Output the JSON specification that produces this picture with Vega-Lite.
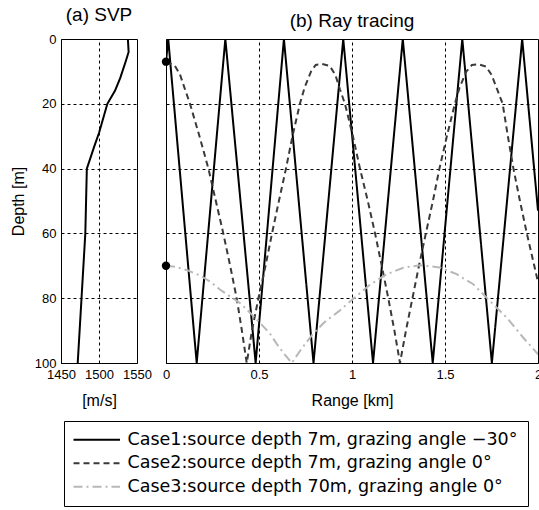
{
  "$schema": "https://vega.github.io/schema/vega-lite/v6.json",
  "background": "white",
  "padding": {"left": 9, "top": 5, "right": 0, "bottom": 0},
  "bounds": "flush",
  "spacing": 29,
  "config": {
    "view": {"stroke": "black", "strokeWidth": 1},
    "font": "Liberation Sans",
    "axis": {
      "grid": true, "gridColor": "black", "gridDash": [3, 3], "gridWidth": 1, "gridOpacity": 1,
      "domain": false, "ticks": false, "labelFlush": false, "labelOverlap": false,
      "labelFont": "Liberation Sans", "labelFontSize": 13, "labelColor": "black", "labelPadding": 5,
      "titleFont": "Liberation Sans", "titleFontSize": 16, "titleFontWeight": "normal", "titleColor": "black", "titlePadding": 11
    },
    "title": {"font": "Liberation Sans", "fontSize": 19, "fontWeight": "normal", "color": "black", "offset": 8}
  },
  "datasets": {
    "svp": [
      {"speed": 1538, "depth": 0}, {"speed": 1539, "depth": 4}, {"speed": 1535, "depth": 7},
      {"speed": 1528, "depth": 12}, {"speed": 1521, "depth": 16}, {"speed": 1511, "depth": 20},
      {"speed": 1500, "depth": 29}, {"speed": 1494, "depth": 33}, {"speed": 1484, "depth": 40},
      {"speed": 1482, "depth": 60}, {"speed": 1477, "depth": 80}, {"speed": 1472, "depth": 100}
    ],
    "rays": [
      {"case": "Case1", "range": 0, "depth": 7}, {"case": "Case1", "range": 0.012, "depth": 0},
      {"case": "Case1", "range": 0.165, "depth": 100}, {"case": "Case1", "range": 0.319, "depth": 0},
      {"case": "Case1", "range": 0.482, "depth": 100}, {"case": "Case1", "range": 0.634, "depth": 0},
      {"case": "Case1", "range": 0.793, "depth": 100}, {"case": "Case1", "range": 0.953, "depth": 0},
      {"case": "Case1", "range": 1.113, "depth": 100}, {"case": "Case1", "range": 1.273, "depth": 0},
      {"case": "Case1", "range": 1.434, "depth": 100}, {"case": "Case1", "range": 1.593, "depth": 0},
      {"case": "Case1", "range": 1.752, "depth": 100}, {"case": "Case1", "range": 1.915, "depth": 0},
      {"case": "Case1", "range": 2.0, "depth": 53},

      {"case": "Case2", "range": 0, "depth": 7}, {"case": "Case2", "range": 0.048, "depth": 8.3},
      {"case": "Case2", "range": 0.075, "depth": 10.9}, {"case": "Case2", "range": 0.102, "depth": 15.5},
      {"case": "Case2", "range": 0.129, "depth": 20}, {"case": "Case2", "range": 0.18, "depth": 30},
      {"case": "Case2", "range": 0.228, "depth": 40}, {"case": "Case2", "range": 0.268, "depth": 50},
      {"case": "Case2", "range": 0.308, "depth": 60}, {"case": "Case2", "range": 0.345, "depth": 70},
      {"case": "Case2", "range": 0.38, "depth": 80}, {"case": "Case2", "range": 0.408, "depth": 90},
      {"case": "Case2", "range": 0.434, "depth": 100}, {"case": "Case2", "range": 0.462, "depth": 90},
      {"case": "Case2", "range": 0.497, "depth": 80}, {"case": "Case2", "range": 0.535, "depth": 70},
      {"case": "Case2", "range": 0.57, "depth": 60}, {"case": "Case2", "range": 0.607, "depth": 50},
      {"case": "Case2", "range": 0.645, "depth": 40}, {"case": "Case2", "range": 0.68, "depth": 30},
      {"case": "Case2", "range": 0.72, "depth": 20}, {"case": "Case2", "range": 0.745, "depth": 15},
      {"case": "Case2", "range": 0.78, "depth": 10}, {"case": "Case2", "range": 0.805, "depth": 8},
      {"case": "Case2", "range": 0.839, "depth": 7.7}, {"case": "Case2", "range": 0.88, "depth": 8.3},
      {"case": "Case2", "range": 0.91, "depth": 11}, {"case": "Case2", "range": 0.935, "depth": 15.5},
      {"case": "Case2", "range": 0.962, "depth": 20}, {"case": "Case2", "range": 1.005, "depth": 30},
      {"case": "Case2", "range": 1.043, "depth": 40}, {"case": "Case2", "range": 1.085, "depth": 50},
      {"case": "Case2", "range": 1.124, "depth": 60}, {"case": "Case2", "range": 1.16, "depth": 70},
      {"case": "Case2", "range": 1.195, "depth": 80}, {"case": "Case2", "range": 1.228, "depth": 90},
      {"case": "Case2", "range": 1.258, "depth": 100}, {"case": "Case2", "range": 1.29, "depth": 90},
      {"case": "Case2", "range": 1.325, "depth": 80}, {"case": "Case2", "range": 1.36, "depth": 70},
      {"case": "Case2", "range": 1.397, "depth": 60}, {"case": "Case2", "range": 1.435, "depth": 50},
      {"case": "Case2", "range": 1.47, "depth": 40}, {"case": "Case2", "range": 1.51, "depth": 30},
      {"case": "Case2", "range": 1.553, "depth": 20}, {"case": "Case2", "range": 1.578, "depth": 15},
      {"case": "Case2", "range": 1.615, "depth": 10}, {"case": "Case2", "range": 1.645, "depth": 8},
      {"case": "Case2", "range": 1.679, "depth": 7.8}, {"case": "Case2", "range": 1.72, "depth": 8.5},
      {"case": "Case2", "range": 1.75, "depth": 11}, {"case": "Case2", "range": 1.78, "depth": 15.5},
      {"case": "Case2", "range": 1.81, "depth": 20}, {"case": "Case2", "range": 1.838, "depth": 30},
      {"case": "Case2", "range": 1.868, "depth": 40}, {"case": "Case2", "range": 1.903, "depth": 50},
      {"case": "Case2", "range": 1.94, "depth": 60}, {"case": "Case2", "range": 1.98, "depth": 70},
      {"case": "Case2", "range": 2.0, "depth": 75},

      {"case": "Case3", "range": 0, "depth": 70}, {"case": "Case3", "range": 0.05, "depth": 70.3},
      {"case": "Case3", "range": 0.12, "depth": 71.5}, {"case": "Case3", "range": 0.183, "depth": 73},
      {"case": "Case3", "range": 0.24, "depth": 75}, {"case": "Case3", "range": 0.29, "depth": 77.3},
      {"case": "Case3", "range": 0.345, "depth": 79.5}, {"case": "Case3", "range": 0.398, "depth": 81.5},
      {"case": "Case3", "range": 0.452, "depth": 84.5}, {"case": "Case3", "range": 0.505, "depth": 87.6},
      {"case": "Case3", "range": 0.56, "depth": 91}, {"case": "Case3", "range": 0.6, "depth": 94.5},
      {"case": "Case3", "range": 0.64, "depth": 97.5}, {"case": "Case3", "range": 0.676, "depth": 100},
      {"case": "Case3", "range": 0.73, "depth": 95.5}, {"case": "Case3", "range": 0.79, "depth": 91},
      {"case": "Case3", "range": 0.85, "depth": 87.5}, {"case": "Case3", "range": 0.93, "depth": 84},
      {"case": "Case3", "range": 1.0, "depth": 80.5}, {"case": "Case3", "range": 1.097, "depth": 75.8},
      {"case": "Case3", "range": 1.187, "depth": 72.6}, {"case": "Case3", "range": 1.276, "depth": 70.6},
      {"case": "Case3", "range": 1.366, "depth": 69.8}, {"case": "Case3", "range": 1.47, "depth": 70.5},
      {"case": "Case3", "range": 1.56, "depth": 72.5}, {"case": "Case3", "range": 1.652, "depth": 75.7},
      {"case": "Case3", "range": 1.742, "depth": 80.9}, {"case": "Case3", "range": 1.832, "depth": 86},
      {"case": "Case3", "range": 1.921, "depth": 92.2}, {"case": "Case3", "range": 2.0, "depth": 97.3}
    ],
    "sources": [
      {"range": 0, "depth": 7}, {"range": 0, "depth": 70}
    ]
  },
  "hconcat": [
    {
      "width": 76,
      "height": 324,
      "title": "(a) SVP",
      "data": {"name": "svp"},
      "mark": {"type": "line", "color": "black", "strokeWidth": 2},
      "encoding": {
        "x": {"field": "speed", "type": "quantitative",
              "scale": {"domain": [1450, 1550], "nice": false, "zero": false},
              "axis": {"values": [1450, 1500, 1550], "title": "[m/s]", "format": "d"}},
        "y": {"field": "depth", "type": "quantitative",
              "scale": {"domain": [0, 100], "reverse": true, "nice": false},
              "axis": {"values": [0, 20, 40, 60, 80, 100], "title": "Depth [m]", "titlePadding": 8}},
        "order": {"field": "depth", "type": "quantitative"}
      }
    },
    {
      "width": 372,
      "height": 324,
      "title": "(b) Ray tracing",
      "layer": [
        {
          "data": {"name": "rays"},
          "mark": {"type": "line", "strokeWidth": 2, "clip": true},
          "encoding": {
            "x": {"field": "range", "type": "quantitative",
                  "scale": {"domain": [0, 2], "nice": false},
                  "axis": {"values": [0, 0.5, 1, 1.5, 2], "title": "Range [km]", "format": "~g"}},
            "y": {"field": "depth", "type": "quantitative",
                  "scale": {"domain": [0, 100], "reverse": true, "nice": false},
                  "axis": {"values": [0, 20, 40, 60, 80, 100], "labels": false, "title": null}},
            "color": {"field": "case", "type": "nominal",
                      "scale": {"domain": ["Case1", "Case2", "Case3"], "range": ["#000000", "#3a3a3a", "#b8b8b8"]},
                      "legend": {
                        "orient": "none", "legendX": 3, "legendY": 382, "title": null,
                        "strokeColor": "black", "fillColor": "white", "padding": 10,
                        "symbolType": "M-3.1,0H3.1", "symbolSize": 225, "symbolStrokeWidth": 2,
                        "symbolOffset": 14, "labelOffset": 22, "rowPadding": 4.5,
                        "labelFont": "DejaVu Sans", "labelFontSize": 17.5, "labelColor": "black", "labelLimit": 1000,
                        "labelExpr": "datum.label == 'Case1' ? 'Case1:source depth 7m, grazing angle −30°' : datum.label == 'Case2' ? 'Case2:source depth 7m, grazing angle 0°' : 'Case3:source depth 70m, grazing angle 0°'"
                      }},
            "strokeDash": {"field": "case", "type": "nominal",
                      "scale": {"domain": ["Case1", "Case2", "Case3"], "range": [[1, 0], [6, 4], [9, 4, 2, 4]]},
                      "legend": {
                        "orient": "none", "legendX": 3, "legendY": 382, "title": null,
                        "strokeColor": "black", "fillColor": "white", "padding": 10,
                        "symbolType": "M-3.1,0H3.1", "symbolSize": 225, "symbolStrokeWidth": 2,
                        "symbolOffset": 14, "labelOffset": 22, "rowPadding": 4.5,
                        "labelFont": "DejaVu Sans", "labelFontSize": 17.5, "labelColor": "black", "labelLimit": 1000,
                        "labelExpr": "datum.label == 'Case1' ? 'Case1:source depth 7m, grazing angle −30°' : datum.label == 'Case2' ? 'Case2:source depth 7m, grazing angle 0°' : 'Case3:source depth 70m, grazing angle 0°'"
                      }}
          }
        },
        {
          "data": {"name": "sources"},
          "mark": {"type": "point", "filled": true, "color": "black", "size": 70, "opacity": 1},
          "encoding": {
            "x": {"field": "range", "type": "quantitative"},
            "y": {"field": "depth", "type": "quantitative"}
          }
        }
      ]
    }
  ]
}
